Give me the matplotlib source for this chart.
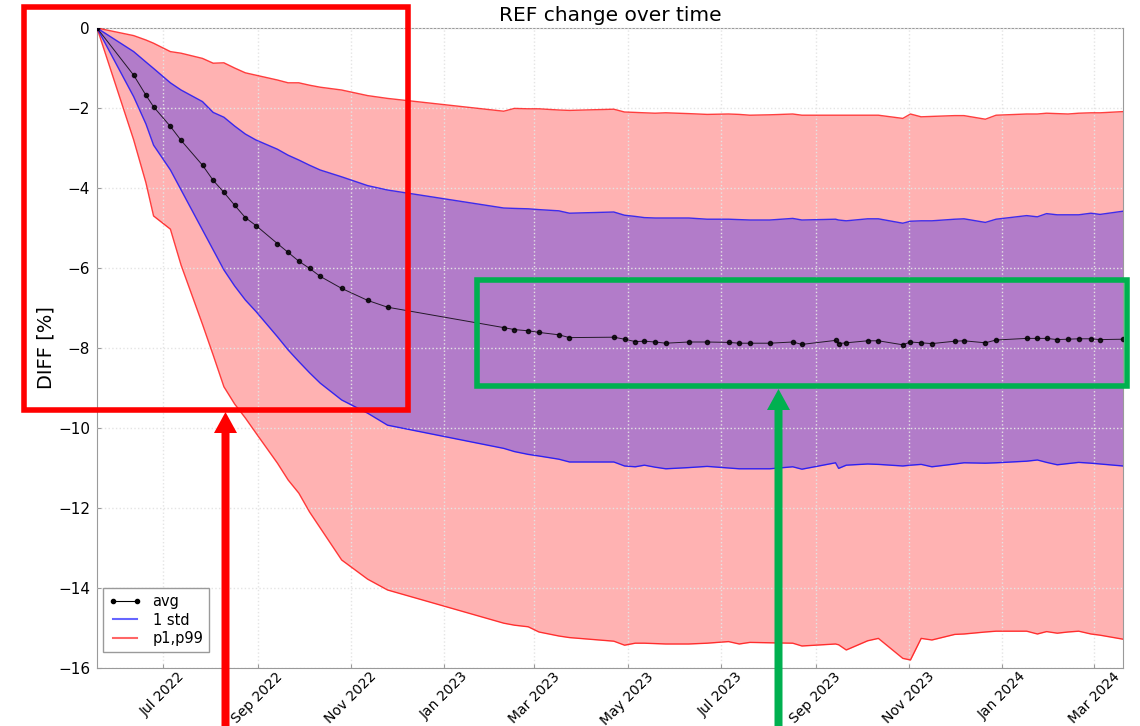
import pandas as pd
import matplotlib
matplotlib.use("Agg")
import matplotlib.pyplot as plt
import matplotlib.dates as mdates
from matplotlib.lines import Line2D
from matplotlib.patches import Rectangle, FancyArrow
from matplotlib.transforms import Affine2D

# ---------------------------------------------------------------- data
dates = [
    "2022-05-19", "2022-06-12", "2022-06-20", "2022-06-25", "2022-07-06",
    "2022-07-13", "2022-07-27", "2022-08-03", "2022-08-10", "2022-08-17",
    "2022-08-24", "2022-08-31", "2022-09-14", "2022-09-21", "2022-09-28",
    "2022-10-05", "2022-10-12", "2022-10-26", "2022-11-12", "2022-11-25",
    "2023-02-09", "2023-02-16", "2023-02-25", "2023-03-04", "2023-03-17",
    "2023-03-24", "2023-04-22", "2023-04-29", "2023-05-06", "2023-05-12",
    "2023-05-19", "2023-05-26", "2023-06-10", "2023-06-22", "2023-07-06",
    "2023-07-13", "2023-07-20", "2023-08-02", "2023-08-17", "2023-08-23",
    "2023-09-14", "2023-09-16", "2023-09-21", "2023-10-05", "2023-10-12",
    "2023-10-28", "2023-11-02", "2023-11-09", "2023-11-16", "2023-12-01",
    "2023-12-07", "2023-12-21", "2023-12-28", "2024-01-17", "2024-01-24",
    "2024-01-30", "2024-02-06", "2024-02-13", "2024-02-20", "2024-02-28",
    "2024-03-05", "2024-03-20",
]

avg = [
    0.00, -1.18, -1.68, -1.97, -2.46, -2.81, -3.43, -3.81, -4.11, -4.43,
    -4.74, -4.94, -5.39, -5.61, -5.83, -6.01, -6.21, -6.51, -6.81, -6.98,
    -7.49, -7.54, -7.57, -7.61, -7.67, -7.74, -7.73, -7.78, -7.84, -7.83,
    -7.85, -7.88, -7.85, -7.85, -7.86, -7.88, -7.88, -7.88, -7.85, -7.91,
    -7.81, -7.89, -7.87, -7.82, -7.82, -7.92, -7.85, -7.87, -7.89, -7.83,
    -7.82, -7.87, -7.80, -7.76, -7.76, -7.76, -7.79, -7.78, -7.77, -7.77,
    -7.79, -7.78,
]

p99 = [
    0.00, -0.19, -0.30, -0.38, -0.59, -0.63, -0.76, -0.88, -0.87, -1.00,
    -1.12, -1.18, -1.30, -1.37, -1.37, -1.43, -1.48, -1.55, -1.69, -1.76,
    -2.08, -2.01, -2.02, -2.02, -2.05, -2.06, -2.03, -2.10, -2.11, -2.12,
    -2.13, -2.12, -2.14, -2.16, -2.15, -2.16, -2.18, -2.17, -2.15, -2.18,
    -2.18, -2.18, -2.18, -2.18, -2.18, -2.26, -2.15, -2.22, -2.21, -2.19,
    -2.19, -2.28, -2.18, -2.15, -2.15, -2.13, -2.14, -2.15, -2.13, -2.12,
    -2.12, -2.09,
]

std_hi = [
    0.00, -0.59, -0.85, -1.01, -1.37, -1.55, -1.84, -2.11, -2.23, -2.45,
    -2.65, -2.80, -3.03, -3.18, -3.30, -3.43, -3.55, -3.72, -3.94, -4.05,
    -4.50, -4.51, -4.52, -4.54, -4.57, -4.63, -4.60, -4.68, -4.71, -4.74,
    -4.75, -4.75, -4.75, -4.78, -4.78, -4.79, -4.80, -4.80, -4.76, -4.80,
    -4.78, -4.80, -4.82, -4.77, -4.77, -4.88, -4.83, -4.82, -4.82, -4.78,
    -4.77, -4.86, -4.78, -4.69, -4.72, -4.64, -4.67, -4.67, -4.67, -4.63,
    -4.66, -4.58,
]

std_lo = [
    0.00, -1.72, -2.40, -2.93, -3.55, -4.05, -5.05, -5.55, -6.05, -6.45,
    -6.80, -7.09, -7.72, -8.05, -8.34, -8.62, -8.88, -9.30, -9.63, -9.93,
    -10.51, -10.59, -10.66, -10.70, -10.78, -10.85, -10.85, -10.95, -10.97, -10.93,
    -10.98, -11.02, -10.99, -10.96, -11.00, -11.02, -11.02, -11.02, -10.97, -11.03,
    -10.87, -11.01, -10.93, -10.90, -10.91, -10.95, -10.93, -10.91, -10.97, -10.90,
    -10.87, -10.88, -10.87, -10.83, -10.80, -10.86, -10.92, -10.89, -10.86, -10.88,
    -10.90, -10.95,
]

p1 = [
    0.00, -2.80, -3.87, -4.70, -5.03, -5.93, -7.41, -8.18, -8.97, -9.40,
    -9.75, -10.13, -10.88, -11.30, -11.63, -12.10, -12.50, -13.30, -13.78, -14.05,
    -14.88, -14.93, -14.97, -15.10, -15.20, -15.24, -15.33, -15.43, -15.38, -15.38,
    -15.39, -15.40, -15.40, -15.38, -15.34, -15.40, -15.36, -15.37, -15.38, -15.45,
    -15.40, -15.42, -15.55, -15.32, -15.26, -15.76, -15.80, -15.26, -15.30, -15.16,
    -15.15, -15.10, -15.08, -15.08, -15.15, -15.09, -15.13, -15.10, -15.08, -15.15,
    -15.18, -15.28,
]

y_ticks = [0, -2, -4, -6, -8, -10, -12, -14, -16]
title = "REF change over time"
y_label = "DIFF [%]"
legend_labels = ["avg", "1 std", "p1,p99"]

# ---------------------------------------------------------------- figure
W, H = 1140, 726
AX_L, AX_R, AX_T, AX_B = 97, 1123, 28, 668
fig = plt.figure(figsize=(W / 100, H / 100), dpi=100)
ax = fig.add_axes([AX_L / W, 1 - AX_B / H, (AX_R - AX_L) / W, (AX_B - AX_T) / H])

t = pd.to_datetime(dates)

ax.fill_between(t, p1, p99, color="red", alpha=0.3, lw=0, zorder=1)
ax.fill_between(t, std_lo, std_hi, color="blue", alpha=0.3, lw=0, zorder=2)
ax.plot(t, p99, color="red", lw=1.0, alpha=0.75, zorder=3)
ax.plot(t, p1, color="red", lw=1.0, alpha=0.75, zorder=3)
ax.plot(t, std_hi, color="blue", lw=1.0, alpha=0.75, zorder=3)
ax.plot(t, std_lo, color="blue", lw=1.0, alpha=0.75, zorder=3)
ax.plot(t, avg, color="black", lw=0.7, alpha=0.8, marker="o", ms=3,
        mec="black", mfc="black", zorder=4)

ax.set_xlim(t[0], t[-1])
ax.set_ylim(-16, 0)
ax.set_yticks(y_ticks)

ax.xaxis.set_major_locator(mdates.MonthLocator(bymonth=[1, 3, 5, 7, 9, 11]))
ax.xaxis.set_major_formatter(mdates.DateFormatter("%b %Y"))

ax.grid(True, color="#e4e4e4", ls=":", lw=1.0)
ax.set_axisbelow(False)
for sp in ax.spines.values():
    sp.set_color("#9a9a9a")
ax.tick_params(direction="in", length=3, color="#9a9a9a", labelsize=11)
ax.tick_params(axis="y", pad=5)
ax.tick_params(axis="x", labelsize=10, pad=1)
for lab in ax.get_xticklabels():
    lab.set_rotation(45)
    lab.set_ha("center")

ax.set_title(title, fontsize=14.5, pad=5)
ax.set_ylabel(y_label, fontsize=14, labelpad=2)

handles = [
    Line2D([], [], color="black", lw=0.8, marker="o", ms=3),
    Line2D([], [], color="blue", lw=1.5, alpha=0.6),
    Line2D([], [], color="red", lw=1.5, alpha=0.6),
]
leg = ax.legend(handles, legend_labels, loc="lower left", numpoints=2,
                bbox_to_anchor=(6 / (AX_R - AX_L), 16 / (AX_B - AX_T)),
                borderaxespad=0, fontsize=10.5, fancybox=False, framealpha=1,
                edgecolor="#9a9a9a", handlelength=2.2,
                labelspacing=0.25, borderpad=0.4)
leg.get_frame().set_linewidth(1.0)

# ------------------------------------------------- highlight boxes/arrows
px = Affine2D().scale(1 / W, -1 / H).translate(0, 1) + fig.transFigure

def box(x0, y0, x1, y1, color):
    fig.add_artist(Rectangle((x0, y0), x1 - x0, y1 - y0, fill=False,
                             ec=color, lw=4.0, transform=px, zorder=10,
                             joinstyle="miter"))

def up_arrow(x, y_tip, color):
    fig.add_artist(FancyArrow(x, H + 10, 0, y_tip - (H + 10), width=8,
                              head_width=23, head_length=21,
                              length_includes_head=True, color=color,
                              lw=0, transform=px, zorder=10))

red, green = "#ff0000", "#00b050"
box(23.5, 6.5, 408, 409.5, red)
up_arrow(225.5, 412, red)
box(476.5, 279.5, 1127, 385.5, green)
up_arrow(778.5, 389, green)

fig.savefig("out.png", dpi=100)
